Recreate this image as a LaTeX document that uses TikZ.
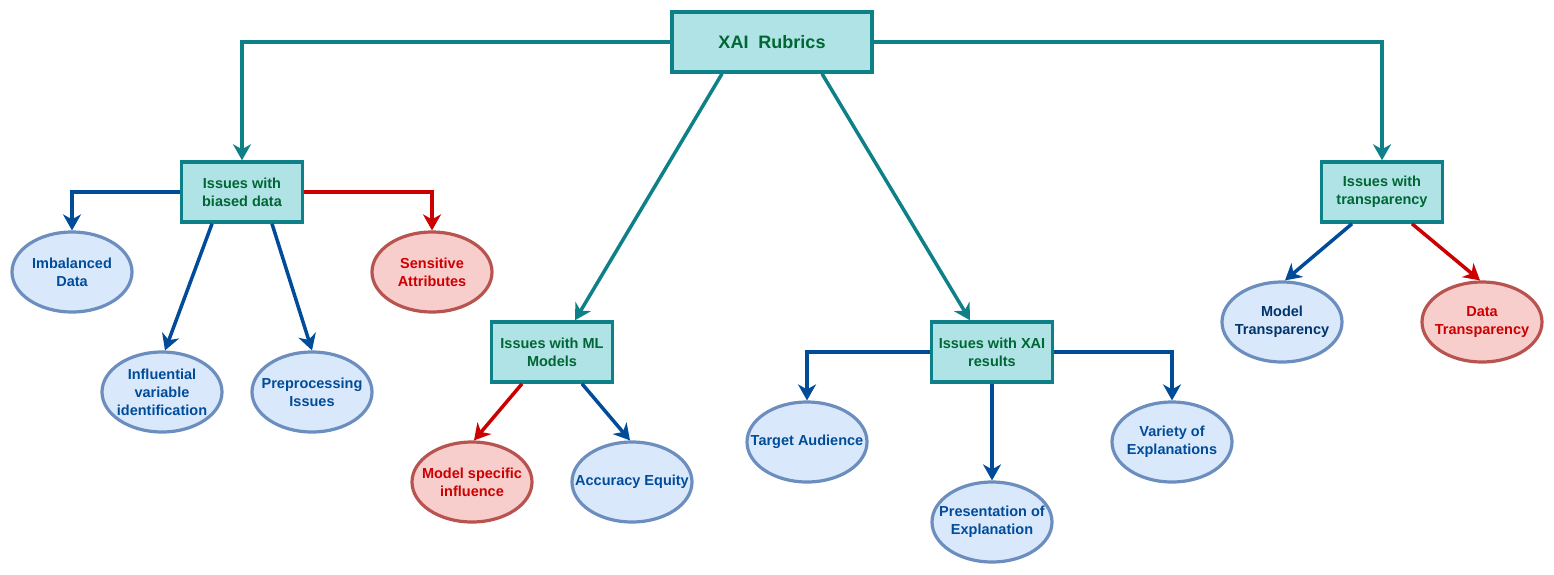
\documentclass[tikz,border=0pt]{standalone}
\usepackage{fontspec}
\setmainfont{Liberation Sans}
\usetikzlibrary{arrows.meta,shapes}
\definecolor{tealb}{HTML}{0E8088}
\definecolor{tealf}{HTML}{B0E3E6}
\definecolor{bluel}{HTML}{004C99}
\definecolor{bluef}{HTML}{DAE8FC}
\definecolor{blued}{HTML}{6C8EBF}
\definecolor{redl}{HTML}{CC0000}
\definecolor{redf}{HTML}{F8CECC}
\definecolor{redd}{HTML}{B85450}
\definecolor{greent}{HTML}{006633}
\tikzstyle{ibox}=[rectangle,draw=tealb,fill=tealf,line width=3.5pt,minimum width=121pt,minimum height=60pt,inner sep=0pt,align=center,text=greent,font=\bfseries\fontsize{14.5}{18}\selectfont]
\tikzstyle{bell}=[ellipse,draw=blued,fill=bluef,line width=3.2pt,minimum width=120pt,minimum height=80pt,inner xsep=-20pt,inner ysep=-10pt,align=center,text=bluel,font=\bfseries\fontsize{14.5}{18}\selectfont]
\tikzstyle{rell}=[bell,draw=redd,fill=redf,text=redl]
\tikzstyle{tline}=[-{Stealth[length=16pt,width=18pt,inset=5pt]},line width=3.5pt,draw=tealb]
\tikzstyle{bline}=[tline,draw=bluel]
\tikzstyle{rline}=[tline,draw=redl]

\begin{document}
\begin{tikzpicture}[x=1pt,y=-1pt]
\useasboundingbox (0,0) rectangle (1554,574);
\node[ibox,minimum width=200pt,font=\bfseries\fontsize{18}{21}\selectfont] (R) at (772,42) {XAI\ \ Rubrics};
\node[ibox] (B) at (242,192) {Issues with\\biased data};
\node[ibox] (ML) at (552,352) {Issues with ML\\Models};
\node[ibox] (XR) at (992,352) {Issues with XAI\\results};
\node[ibox] (T) at (1382,192) {Issues with\\transparency};
% biased data
\node[bell] (ID) at (72,272) {Imbalanced\\Data};
\node[bell] (IV) at (162,392) {Influential\\variable\\identification};
\node[bell] (PI) at (312,392) {Preprocessing\\Issues};
\node[rell] (SA) at (432,272) {Sensitive\\Attributes};
% ML models
\node[rell] (MS) at (472,482) {Model specific\\influence};
\node[bell] (AE) at (632,482) {Accuracy Equity};
% XAI results
\node[bell] (TA) at (807,442) {Target Audience};
\node[bell] (PE) at (992,522) {Presentation of\\Explanation};
\node[bell] (VE) at (1172,442) {Variety of\\Explanations};
% transparency
\node[bell,text=bluel!70!black] (MT) at (1282,322) {Model\\Transparency};
\node[rell] (DT) at (1482,322) {Data\\Transparency};

\draw[tline](R.west)-|(B.north);\draw[tline](R.east)-|(T.north);
\draw[tline]([xshift=-50pt]R.south)--([xshift=23pt]ML.north);\draw[tline]([xshift=50pt]R.south)--([xshift=-22pt]XR.north);
\draw[bline](B.west)-|(ID.north);\draw[rline](B.east)-|(SA.north);
\draw[bline]([xshift=-30pt]B.south)--([xshift=3pt]IV.north);\draw[bline]([xshift=30pt]B.south)--(PI.north);
\draw[rline]([xshift=-30pt]ML.south)--([xshift=2pt]MS.north);\draw[bline]([xshift=30pt]ML.south)--([xshift=-2pt]AE.north);
\draw[bline](XR.west)-|(TA.north);\draw[bline](XR.south)--(PE.north);\draw[bline](XR.east)-|(VE.north);
\draw[bline]([xshift=-30pt]T.south)--([xshift=3pt]MT.north);\draw[rline]([xshift=30pt]T.south)--([xshift=-2pt]DT.north);
\end{tikzpicture}
\end{document}
